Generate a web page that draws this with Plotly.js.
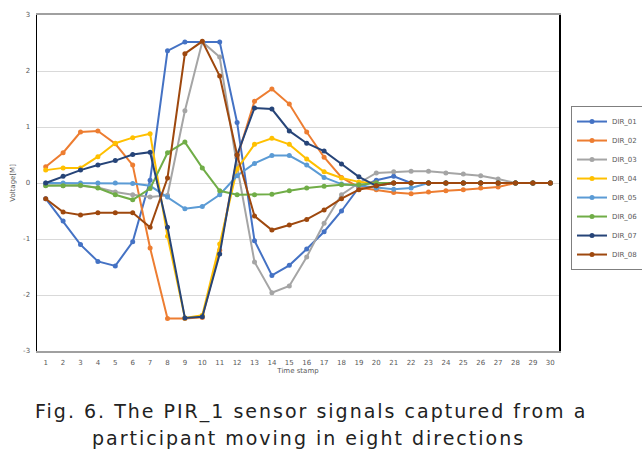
<!DOCTYPE html>
<html>
<head>
<meta charset="utf-8">
<script src="https://cdn.plot.ly/plotly-3.0.1.min.js"></script>
<style>html,body{margin:0;padding:0;background:#fff;}#chart{width:642px;height:458px;}</style>
</head>
<body>
<div id="chart"></div>
<script>
const timestamps = [1,2,3,4,5,6,7,8,9,10,11,12,13,14,15,16,17,18,19,20,21,22,23,24,25,26,27,28,29,30];
const seriesNames = ["DIR_01","DIR_02","DIR_03","DIR_04","DIR_05","DIR_06","DIR_07","DIR_08"];
const seriesColors = ["#4472C4","#ED7D31","#A5A5A5","#FFC000","#5B9BD5","#70AD47","#264478","#9E480E"];
const DIR_01 = [-0.28,-0.68,-1.10,-1.40,-1.48,-1.05,0.05,2.36,2.52,2.52,2.52,1.08,-1.03,-1.65,-1.47,-1.18,-0.87,-0.50,-0.08,0.05,0.12,0,0,0,0,0,0,0,0,0];
const DIR_02 = [0.29,0.54,0.91,0.93,0.70,0.32,-1.16,-2.42,-2.42,-2.40,-1.20,0.45,1.46,1.68,1.41,0.91,0.46,0.10,-0.08,-0.12,-0.17,-0.19,-0.16,-0.14,-0.12,-0.09,-0.07,0,0,0];
const DIR_03 = [-0.04,-0.05,-0.05,-0.08,-0.16,-0.21,-0.25,-0.22,1.29,2.52,2.25,0.30,-1.41,-1.96,-1.84,-1.32,-0.72,-0.21,0.00,0.18,0.20,0.21,0.21,0.18,0.16,0.13,0.07,0,0,0];
const DIR_04 = [0.23,0.27,0.27,0.47,0.71,0.81,0.88,-0.95,-2.41,-2.36,-1.09,0.25,0.69,0.80,0.69,0.43,0.20,0.09,0.02,0,0,0,0,0,0,0,0,0,0,0];
const DIR_05 = [0,0,0,0,0,-0.01,-0.05,-0.25,-0.46,-0.42,-0.21,0.13,0.35,0.49,0.49,0.32,0.10,-0.02,-0.05,-0.09,-0.11,-0.09,0,0,0,0,0,0,0,0];
const DIR_06 = [-0.05,-0.05,-0.04,-0.09,-0.21,-0.30,-0.10,0.54,0.73,0.27,-0.14,-0.21,-0.21,-0.20,-0.14,-0.09,-0.06,-0.03,-0.03,0,0,0,0,0,0,0,0,0,0,0];
const DIR_07 = [0,0.12,0.23,0.32,0.40,0.51,0.55,-0.79,-2.41,-2.39,-1.27,0.50,1.34,1.32,0.93,0.71,0.57,0.34,0.11,-0.05,0,0,0,0,0,0,0,0,0,0];
const DIR_08 = [-0.28,-0.52,-0.57,-0.53,-0.53,-0.53,-0.79,0.09,2.31,2.53,1.91,0.50,-0.59,-0.84,-0.75,-0.65,-0.48,-0.28,-0.12,-0.05,0,0,0,0,0,0,0,0,0,0];
const seriesValues = [DIR_01,DIR_02,DIR_03,DIR_04,DIR_05,DIR_06,DIR_07,DIR_08];
const yTicks = [-3,-2,-1,0,1,2,3];
const captionLines = ["Fig. 6. The PIR_1 sensor signals captured from a","participant moving in eight directions"];

const traces = seriesNames.map((name,i)=>({
  type:"scatter", mode:"lines+markers", name:name,
  x:timestamps, y:seriesValues[i],
  line:{color:seriesColors[i], width:2},
  marker:{color:seriesColors[i], size:5, symbol:"circle"}
}));

const tickFont = {family:"DejaVu Sans, sans-serif", size:7, color:"#595959"};
const capFont = {family:"DejaVu Sans, sans-serif", size:19, color:"#222"};
const layout = {
  width:642, height:458,
  margin:{l:37, r:83, t:15, b:107, autoexpand:false},
  paper_bgcolor:"#fff", plot_bgcolor:"#fff",
  showlegend:true,
  legend:{x:1.023, y:0.485, xanchor:"left", yanchor:"middle",
    bordercolor:"#7f7f7f", borderwidth:1, bgcolor:"#fff",
    font:{family:"DejaVu Sans, sans-serif", size:7, color:"#595959"},
    itemwidth:30, tracegroupgap:0},
  xaxis:{range:[0.5,30.5], tickmode:"array", tickvals:timestamps, ticktext:timestamps.map(String),
    showgrid:false, zeroline:false, showline:true, linecolor:"#A0A0A0", linewidth:2, mirror:true,
    ticks:"", tickfont:tickFont, ticklabelstandoff:4,
    title:{text:"Time stamp", font:{family:"DejaVu Sans, sans-serif", size:7, color:"#595959"}, standoff:2}},
  yaxis:{range:[-3,3], tickmode:"array", tickvals:yTicks, ticktext:yTicks.map(String),
    showgrid:true, gridcolor:"#D9D9D9", gridwidth:1, zeroline:false,
    showline:true, linecolor:"#000", linewidth:1.5, mirror:true,
    ticks:"", tickfont:tickFont, ticklabelstandoff:4,
    title:{text:"Voltage[M]", font:{family:"DejaVu Sans, sans-serif", size:7, color:"#595959"}, standoff:6}},
  annotations:[
    {xref:"paper", yref:"paper", x:0.525, y:-0.179, xanchor:"center", yanchor:"middle", showarrow:false,
     text:'<span style="letter-spacing:2px">'+captionLines[0]+'</span>', font:capFont},
    {xref:"paper", yref:"paper", x:0.52, y:-0.259, xanchor:"center", yanchor:"middle", showarrow:false,
     text:'<span style="letter-spacing:2px">'+captionLines[1]+'</span>', font:capFont}
  ]
};
Plotly.newPlot("chart", traces, layout, {displayModeBar:false, staticPlot:true});
</script>
</body>
</html>
